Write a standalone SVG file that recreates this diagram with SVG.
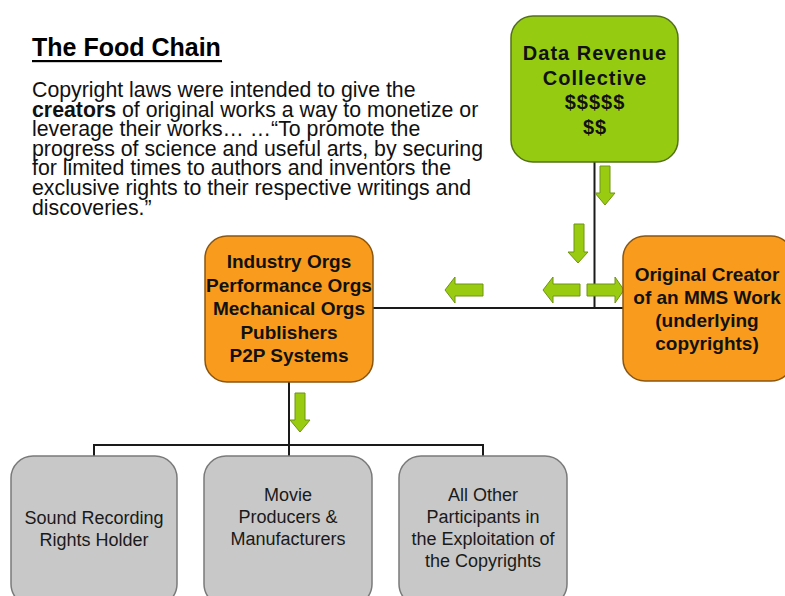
<svg xmlns="http://www.w3.org/2000/svg" width="785" height="596" viewBox="0 0 785 596">
  <style>
    .title { font-family: "Liberation Sans", Arial, sans-serif; font-size: 25px; font-weight: bold; fill: #000; }
    .body { font-family: "Liberation Sans", Arial, sans-serif; font-size: 21.3px; fill: #111; }
    .node-green { fill: #95cc12; stroke: #55701a; stroke-width: 1.5; }
    .node-orange { fill: #f99b1c; stroke: #8a5612; stroke-width: 1.5; }
    .node-gray { fill: #c8c8c8; stroke: #7a7a7a; stroke-width: 1.5; }
    .bold { font-family: "Liberation Sans", Arial, sans-serif; font-size: 19px; font-weight: bold; fill: #111; text-anchor: middle; }
    .bold-wide { font-family: "Liberation Sans", Arial, sans-serif; font-size: 20px; font-weight: bold; letter-spacing: 1px; fill: #111; text-anchor: middle; }
    .plain { font-family: "Liberation Sans", Arial, sans-serif; font-size: 18px; fill: #1a1a1a; text-anchor: middle; }
    .wire { fill: none; stroke: #1a1a1a; stroke-width: 2; }
    .flow { fill: #99cc11; stroke: #6f9412; stroke-width: 1; }
  </style>

  <rect width="785" height="596" fill="#ffffff"/>

  <!-- heading and introduction -->
  <g id="intro">
    <text class="title" x="32" y="56">The Food Chain</text>
    <rect x="32" y="60" width="190" height="2.2" fill="#000"/>
    <text class="body" x="32" y="97">Copyright laws were intended to give the</text>
    <text class="body" x="32" y="116.6"><tspan font-weight="bold">creators</tspan> of original works a way to monetize or</text>
    <text class="body" x="32" y="136.2">leverage their works… …“To promote the</text>
    <text class="body" x="32" y="155.8">progress of science and useful arts, by securing</text>
    <text class="body" x="32" y="175.4">for limited times to authors and inventors the</text>
    <text class="body" x="32" y="195">exclusive rights to their respective writings and</text>
    <text class="body" x="32" y="214.6">discoveries.”</text>
  </g>

  <!-- connector lines -->
  <g id="connectors">
    <path class="wire" d="M594.5 162 V308"/>
    <path class="wire" d="M373 308 H623"/>
    <path class="wire" d="M289 382 V445"/>
    <path class="wire" d="M94 456 V445 H483 V456"/>
    <path class="wire" d="M289 445 V456"/>
  </g>

  <!-- flow arrows -->
  <g id="flow-arrows">
    <path class="flow" d="M600 166 H610 V193 H615 L605 205 L595 193 H600 Z"/>
    <path class="flow" d="M574 224 H584 V252 H588 L578 263 L568 252 H574 Z"/>
    <path class="flow" d="M580 284 V296 H553 V303 L543 290 L553 277 V284 Z"/>
    <path class="flow" d="M587 284 H615 V277 L624 290 L615 303 V296 H587 Z"/>
    <path class="flow" d="M483 284 V296 H455 V303 L445 290 L455 277 V284 Z"/>
    <path class="flow" d="M295 393 H305 V420 H310 L300 432 L290 420 H295 Z"/>
  </g>

  <g id="data-revenue-collective">
    <rect class="node-green" x="511" y="16" width="167" height="146" rx="22"/>
    <text class="bold-wide" x="595" y="60">Data Revenue</text>
    <text class="bold-wide" x="595" y="84.5">Collective</text>
    <text class="bold-wide" x="595" y="109">$$$$$</text>
    <text class="bold-wide" x="595" y="133.5">$$</text>
  </g>

  <g id="original-creator">
    <rect class="node-orange" x="623" y="236" width="170" height="145" rx="22"/>
    <text class="bold" x="707" y="281">Original Creator</text>
    <text class="bold" x="707" y="304">of an MMS Work</text>
    <text class="bold" x="707" y="327">(underlying</text>
    <text class="bold" x="707" y="350">copyrights)</text>
  </g>

  <g id="industry-orgs">
    <rect class="node-orange" x="205" y="236" width="168" height="146" rx="22"/>
    <text class="bold" x="289" y="268">Industry Orgs</text>
    <text class="bold" x="289" y="291.5">Performance Orgs</text>
    <text class="bold" x="289" y="315">Mechanical Orgs</text>
    <text class="bold" x="289" y="338.5">Publishers</text>
    <text class="bold" x="289" y="362">P2P Systems</text>
  </g>

  <g id="sound-recording">
    <rect class="node-gray" x="11" y="456" width="166" height="150" rx="22"/>
    <text class="plain" x="94" y="524">Sound Recording</text>
    <text class="plain" x="94" y="546">Rights Holder</text>
  </g>

  <g id="movie-producers">
    <rect class="node-gray" x="204" y="456" width="168" height="150" rx="22"/>
    <text class="plain" x="288" y="501">Movie</text>
    <text class="plain" x="288" y="523">Producers &amp;</text>
    <text class="plain" x="288" y="545">Manufacturers</text>
  </g>

  <g id="other-participants">
    <rect class="node-gray" x="399" y="456" width="168" height="150" rx="22"/>
    <text class="plain" x="483" y="501">All Other</text>
    <text class="plain" x="483" y="523">Participants in</text>
    <text class="plain" x="483" y="545">the Exploitation of</text>
    <text class="plain" x="483" y="567">the Copyrights</text>
  </g>
</svg>
